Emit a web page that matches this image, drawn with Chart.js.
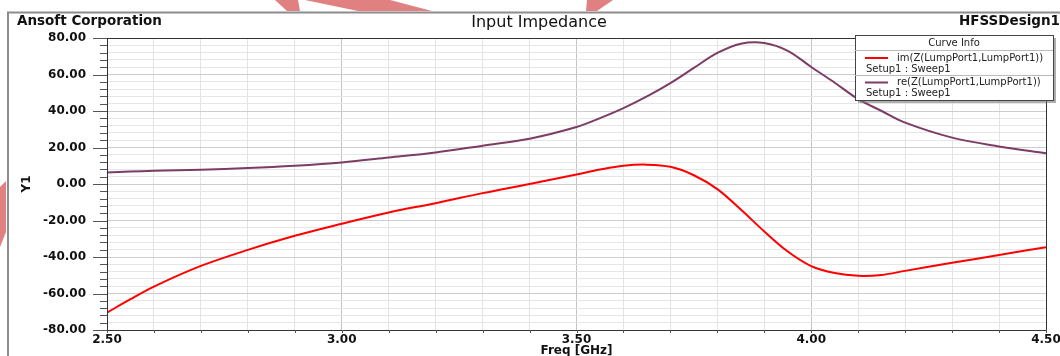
<!DOCTYPE html>
<html>
<head>
<meta charset="utf-8">
<script src="https://cdn.jsdelivr.net/npm/chart.js@4.4.1/dist/chart.umd.min.js"></script>
<style>
  html, body { margin: 0; padding: 0; background: #fff; }
  #wrap { width: 1060px; height: 356px; }
</style>
</head>
<body>
<div id="wrap"><canvas id="chart" width="1060" height="356"></canvas></div>
<script>
// values
const freq = [2.5, 2.55, 2.6, 2.7, 2.8, 2.9, 3.0, 3.1, 3.2, 3.3, 3.4, 3.5, 3.55, 3.6, 3.65, 3.7, 3.75, 3.8, 3.85, 3.9, 3.95, 4.0, 4.05, 4.1, 4.15, 4.2, 4.3, 4.4, 4.5];
const imZ = [-70.5, -63.1, -56.2, -44.9, -36.1, -28.4, -21.8, -15.6, -10.5, -5.0, 0.0, 5.2, 7.9, 10.0, 10.6, 9.4, 4.8, -2.8, -14.0, -26.0, -37.0, -45.0, -48.8, -50.3, -49.8, -47.6, -43.2, -38.9, -34.6];
const reZ = [6.3, 6.8, 7.2, 7.8, 8.7, 10.0, 11.8, 14.5, 17.3, 21.0, 24.8, 31.2, 36.1, 41.6, 48.0, 55.3, 63.6, 71.8, 76.9, 77.3, 73.0, 64.1, 55.5, 46.5, 40.0, 33.6, 25.4, 20.6, 16.9];
const yTickLabels = [-80, -60, -40, -20, 0, 20, 40, 60, 80];
const xTickLabels = [2.5, 3.0, 3.5, 4.0, 4.5];

const FONT = '"DejaVu Sans", sans-serif';
const near = (v, list) => list.some(t => Math.abs(t - v) < 1e-6);

const decor = {
  id: 'decor',
  beforeDraw(chart) {
    const c = chart.ctx;
    c.save();
    // watermark fragments
    c.fillStyle = '#e08080';
    [[[275,0],[298,0],[300,11],[287,11]],
     [[305,0],[390,0],[432,11],[358,11]],
     [[587,0],[613,0],[597,11],[586,11]],
     [[0,187],[6,181],[6,232],[0,247]]].forEach(p => {
      c.beginPath();
      c.moveTo(p[0][0], p[0][1]);
      p.slice(1).forEach(q => c.lineTo(q[0], q[1]));
      c.closePath();
      c.fill();
    });
    // outer frame
    c.strokeStyle = '#8c8c8c';
    c.lineWidth = 2;
    c.beginPath();
    c.moveTo(8, 356); c.lineTo(8, 12.5); c.lineTo(1060, 12.5);
    c.stroke();
    // header texts
    c.fillStyle = '#111';
    c.textBaseline = 'alphabetic';
    c.font = 'bold 13.5px ' + FONT;
    c.textAlign = 'left';
    c.fillText('Ansoft Corporation', 17, 25);
    c.textAlign = 'right';
    c.fillText('HFSSDesign1', 1060, 25);
    c.font = '16px ' + FONT;
    c.textAlign = 'center';
    c.fillText('Input Impedance', 539, 26.5);
    c.restore();
  },
  afterDraw(chart) {
    const c = chart.ctx;
    const a = chart.chartArea;
    const xs = chart.scales.x, ys = chart.scales.y;
    c.save();
    // plot frame
    c.strokeStyle = '#333';
    c.lineWidth = 1;
    c.strokeRect(a.left + 0.5, a.top + 0.5, a.right - a.left, a.bottom - a.top);
    // y ticks
    c.strokeStyle = '#555';
    ys.ticks.forEach(t => {
      const py = Math.round(ys.getPixelForValue(t.value)) + 0.5;
      const major = near(t.value, yTickLabels);
      c.beginPath();
      c.moveTo(major ? a.left - 14 : a.left - 7, py);
      c.lineTo(a.left, py);
      c.stroke();
    });
    // x ticks
    xs.ticks.forEach(t => {
      const px = Math.round(xs.getPixelForValue(t.value)) + 0.5;
      c.beginPath();
      c.moveTo(px, a.bottom);
      c.lineTo(px, a.bottom + 3);
      c.stroke();
    });
    // Curve Info box
    const bx = 855, by = 35, bw = 198, bh = 65;
    c.fillStyle = 'rgba(120,120,120,0.6)';
    c.fillRect(bx + 3, by + 3, bw, bh);
    c.fillStyle = '#fff';
    c.fillRect(bx, by, bw, bh);
    c.strokeStyle = '#444';
    c.strokeRect(bx + 0.5, by + 0.5, bw, bh);
    c.fillStyle = '#222';
    c.font = '10px ' + FONT;
    c.textBaseline = 'middle';
    c.textAlign = 'center';
    c.fillText('Curve Info', bx + bw / 2, by + 8);
    c.strokeStyle = '#bbb';
    c.beginPath();
    c.moveTo(bx, by + 15.5); c.lineTo(bx + bw, by + 15.5);
    c.moveTo(bx, by + 40.5); c.lineTo(bx + bw, by + 40.5);
    c.stroke();
    c.textAlign = 'left';
    chart.data.datasets.forEach((ds, i) => {
      const ly = by + 23 + i * 24.5;
      c.strokeStyle = ds.borderColor;
      c.lineWidth = 2;
      c.beginPath();
      c.moveTo(bx + 10, ly); c.lineTo(bx + 33, ly);
      c.stroke();
      c.fillStyle = '#222';
      c.fillText(ds.label, bx + 42, ly);
      c.fillText('Setup1 : Sweep1', bx + 11, ly + 11);
    });
    c.restore();
  }
};

new Chart(document.getElementById('chart').getContext('2d'), {
  type: 'line',
  data: {
    datasets: [{
      label: 'im(Z(LumpPort1,LumpPort1))',
      data: freq.map((f, i) => ({ x: f, y: imZ[i] })),
      borderColor: '#ff0000',
      borderWidth: 2,
      pointRadius: 0,
      tension: 0.35,
      fill: false
    }, {
      label: 're(Z(LumpPort1,LumpPort1))',
      data: freq.map((f, i) => ({ x: f, y: reZ[i] })),
      borderColor: '#7d3c64',
      borderWidth: 2,
      pointRadius: 0,
      tension: 0.35,
      fill: false
    }]
  },
  options: {
    responsive: false,
    animation: false,
    layout: { padding: { left: 0, right: 14, top: 38, bottom: 0 } },
    plugins: { legend: { display: false }, title: { display: false }, tooltip: { enabled: false } },
    scales: {
      x: {
        type: 'linear',
        min: 2.5,
        max: 4.5,
        afterFit: s => { s.height = 26; s.paddingLeft = 0; s.paddingRight = 0; },
        ticks: {
          stepSize: 0.1,
          autoSkip: false,
          maxRotation: 0,
          padding: 3,
          color: '#111',
          font: { family: FONT, size: 12, weight: 'bold' },
          callback: v => near(v, xTickLabels) ? v.toFixed(2) : ''
        },
        grid: {
          drawTicks: false,
          color: c => near(c.tick.value, xTickLabels) ? '#c4c4c4' : '#e4e4e4'
        },
        border: { display: false },
        title: {
          display: true,
          text: 'Freq [GHz]',
          color: '#111',
          font: { family: FONT, size: 12, weight: 'bold' },
          padding: { top: 0, bottom: -2 }
        }
      },
      y: {
        min: -80,
        max: 80,
        afterFit: s => { s.width = 107; s.paddingTop = 0; s.paddingBottom = 0; },
        ticks: {
          stepSize: 4,
          autoSkip: false,
          padding: 21,
          color: '#111',
          font: { family: FONT, size: 12, weight: 'bold' },
          callback: v => near(v, yTickLabels) ? v.toFixed(2) : ''
        },
        grid: {
          drawTicks: false,
          color: c => near(c.tick.value, yTickLabels) ? '#cdcdcd' : '#e6e6e6'
        },
        border: { display: false },
        title: {
          display: true,
          text: 'Y1',
          color: '#111',
          font: { family: FONT, size: 12, weight: 'bold' },
          padding: { top: 20, bottom: 0 }
        }
      }
    }
  },
  plugins: [decor]
});
</script>
</body>
</html>
